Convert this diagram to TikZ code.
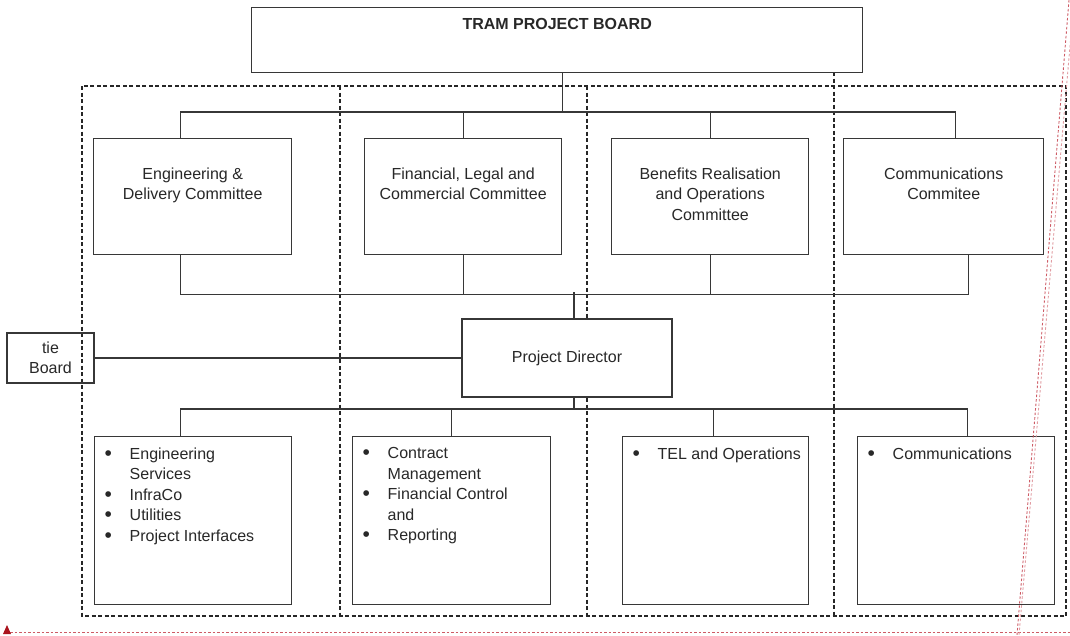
\documentclass[tikz,border=0pt]{standalone}
\usepackage{fontspec}
\setmainfont{Liberation Sans}
\usetikzlibrary{positioning,calc}
\setlength{\parskip}{0pt}

\definecolor{linegray}{RGB}{55,55,55}
\definecolor{textgray}{RGB}{40,40,40}
\definecolor{markred}{RGB}{205,90,100}
\definecolor{arrowred}{RGB}{170,20,30}

% committee text, set at the top of its box
\newcommand{\cbox}[2]{\parbox[t][116pt][t]{#1}{\centering\vspace*{29pt}#2}}
% box with a bullet list
\newcommand{\lbox}[2]{\parbox[t][168pt][t]{#1}{\raggedright\vspace*{11pt}#2}}
\newcommand{\bul}[1]{\par\hangindent=35pt\hangafter=1\noindent\hspace*{10pt}\makebox[25pt][l]{\raisebox{-1pt}{\fontsize{21}{21}\selectfont\textbullet}}#1}

\tikzset{
  box/.style={draw=linegray, line width=1.4pt, fill=white, inner sep=0pt, anchor=north west, text=textgray},
  conn/.style={draw=linegray, line width=1.2pt},
  zone/.style={draw=black!85, line width=1.6pt, dash pattern=on 4pt off 2.5pt},
  redmark/.style={draw=markred, line width=0.9pt, dash pattern=on 2.5pt off 2pt}
}

\begin{document}
\begin{tikzpicture}[x=1pt, y=-1pt, font=\fontsize{16}{20.5}\selectfont]
    \useasboundingbox (0,0) rectangle (1070,635);

    % Dotted areas
    \draw[zone] (82,86) rectangle (1066,616);
    \draw[zone] (340,86) -- (340,616);
    \draw[zone] (587,86) -- (587,616);
    \draw[zone] (834,72) -- (834,616);

    % Board
    \node[box] (board) at (251,7) {\parbox[t][65pt][t]{611pt}{\centering\vspace*{11pt}\textbf{TRAM PROJECT BOARD}}};

    % Committees
    \node[box] (eng) at (93,138) {\cbox{198pt}{Engineering \&\\Delivery Committee}};
    \node[box] (fin) at (364,138) {\cbox{197pt}{Financial, Legal and\\Commercial Committee}};
    \node[box] (ben) at (611,138) {\cbox{197pt}{Benefits Realisation\\and Operations\\Committee}};
    \node[box] (comm) at (843,138) {\cbox{200pt}{Communications\\Commitee}};

    \draw[conn] ([xshift=5pt]board.south) -- ++(0,40);
    \draw[conn] ([xshift=-12pt]eng.north) -- ++(0,-26) -| ([xshift=12pt]comm.north);
    \draw[conn] (fin.north) -- ++(0,-26);
    \draw[conn] (ben.north) -- ++(0,-26);

    % Director
    \node[box, anchor=center, minimum width=210pt, minimum height=78pt] (pd) at (567,358) {Project Director};
    \node[box, fill=none, anchor=center, minimum width=87pt, minimum height=50pt, align=center] (tie) at (50.5,358) {tie\\Board};

    \draw[conn] ([xshift=-12pt]eng.south) -- ++(0,39) -| ([xshift=25pt]comm.south);
    \draw[conn] (fin.south) -- ++(0,39);
    \draw[conn] (ben.south) -- ++(0,39);
    \draw[conn] ([xshift=7pt]pd.north) -- ++(0,-26);
    \draw[conn] (tie.east) -- (pd.west);

    % Teams
    \node[box] (eng-s) at (94,436) {\lbox{197pt}{\bul{Engineering\newline Services}\bul{InfraCo}\bul{Utilities}\bul{Project Interfaces}}};
    \node[box] (fin-s) at (352,436) {\lbox{198pt}{\bul{Contract\newline Management}\bul{Financial Control\newline and}\bul{Reporting}}};
    \node[box] (tel) at (622,436) {\lbox{186pt}{\bul{TEL and Operations}}};
    \node[box] (comm-s) at (857,436) {\lbox{197pt}{\bul{Communications}}};

    \draw[conn] ([xshift=7pt]pd.south) -- ++(0,12);
    \draw[conn] ([xshift=-12.5pt]eng-s.north) -- ++(0,-27) -| ([xshift=11.5pt]comm-s.north);
    \draw[conn] (fin-s.north) -- ++(0,-27);
    \draw[conn] ([xshift=-2pt]tel.north) -- ++(0,-27);

    % red marks
    \draw[redmark] (10,632) -- (1070,632);
    \draw[redmark] (1069,0) -- (1017,635);
    \draw[redmark, draw=markred!60] (1074,0) -- (1019,635);
    \fill[arrowred] (3,634) -- (11,634) -- (7,625) -- cycle;
\end{tikzpicture}
\end{document}
